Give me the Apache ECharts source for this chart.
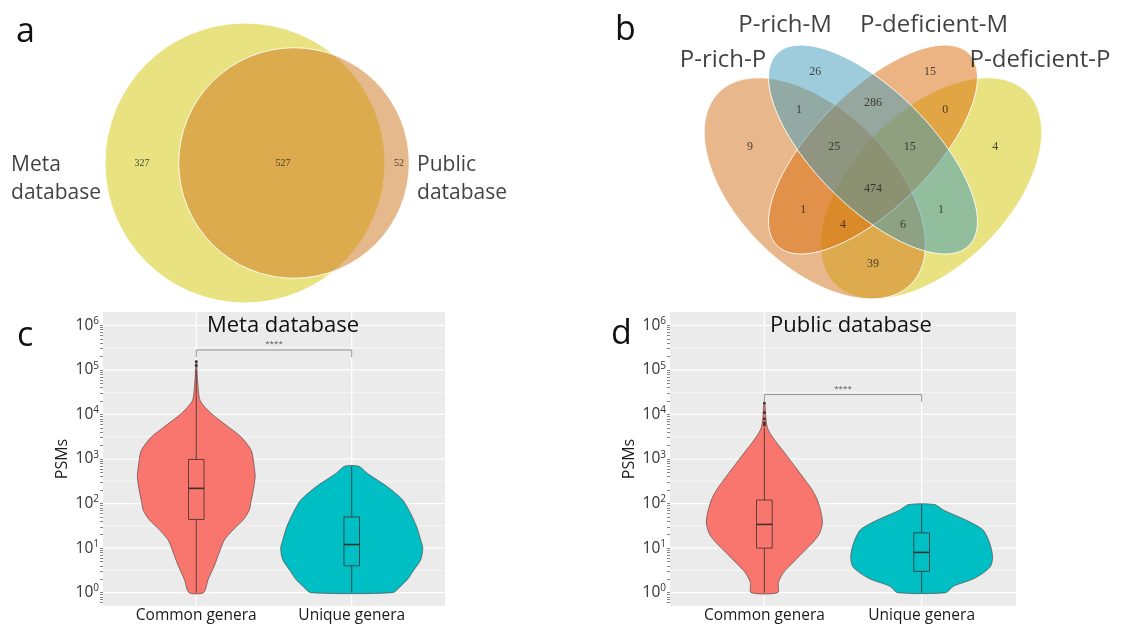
<!DOCTYPE html>
<html>
<head>
<meta charset="utf-8">
<script src="https://cdn.jsdelivr.net/npm/echarts@6/dist/echarts.min.js"></script>
<style>
  html, body { margin: 0; padding: 0; background: #ffffff; }
  #chart { width: 1134px; height: 626px; }
</style>
</head>
<body>
<div id="chart"></div>
<script>
// ---------------- data ----------------
// Panel a: two-set Venn (Meta only, shared, Public only)
const vennASets = ['Meta\ndatabase', 'Public\ndatabase'];
const vennACounts = [327, 527, 52];

// Panel b: four-set Venn
const vennBSets = ['P-rich-P', 'P-rich-M', 'P-deficient-M', 'P-deficient-P'];
// region counts, same order as vennBCountPos below
const vennBCounts = [9, 26, 15, 4, 1, 286, 0, 25, 15, 474, 1, 4, 6, 1, 39];

// Panels c and d: PSM distributions
const categories = ['Common genera', 'Unique genera'];
const yExponents = [0, 1, 2, 3, 4, 5, 6];

// violin outlines: [PSMs, half width in category units]
const metaCommonViolin = [[1, 0.047], [2, 0.077], [4, 0.116], [8, 0.148], [15, 0.18], [26, 0.238], [43, 0.302],
  [71, 0.341], [120, 0.354], [200, 0.367], [400, 0.379], [660, 0.373], [1550, 0.354], [3100, 0.289],
  [5100, 0.212], [10500, 0.096], [20000, 0.026], [37000, 0.013], [80000, 0.006], [158000, 0.003]];
const metaUniqueViolin = [[1, 0.264], [1.4, 0.315], [2, 0.36], [3.2, 0.399], [5.5, 0.444], [10, 0.457], [15, 0.444],
  [30, 0.418], [60, 0.379], [120, 0.328], [235, 0.232], [470, 0.103], [690, 0.045]];
const publicCommonViolin = [[1, 0.085], [1.7, 0.089], [2.8, 0.121], [4.6, 0.178], [7.8, 0.242], [13, 0.305], [21, 0.35],
  [36, 0.369], [60, 0.362], [120, 0.337], [200, 0.305], [330, 0.261], [660, 0.197], [1300, 0.134],
  [2200, 0.083], [3700, 0.038], [5100, 0.019], [8000, 0.01], [18000, 0.003]];
const publicUniqueViolin = [[1, 0.153], [1.4, 0.203], [2, 0.324], [2.8, 0.394], [3.9, 0.439], [5.9, 0.451], [9.1, 0.445],
  [15, 0.426], [26, 0.388], [43, 0.28], [71, 0.14], [95, 0.083]];

// box statistics: [lower whisker, Q1, median, Q3, upper whisker]
const metaBoxes = [[1, 44, 219, 977, 100000], [1, 4, 12, 50, 690]];
const publicBoxes = [[1, 10, 34, 120, 5000], [1, 3, 8, 22, 95]];
// outliers: [category position, PSMs]
const metaOutliers = [[1, 125000], [1, 155000]];
const publicOutliers = [[1, 5800], [1, 6500], [1, 8000], [1, 11000], [1, 18000]];
// significance brackets: [from, to, PSMs level, label]
const metaBracket = [1, 2, 280000, '****'];
const publicBracket = [1, 2, 28000, '****'];

// ---------------- layout ----------------
const SANS = '"Open Sans", "Noto Sans", "DejaVu Sans", sans-serif';
const SERIF = '"Liberation Serif", "DejaVu Serif", serif';
const L10 = Math.log10;

// Venn a: circle centres in units of the Meta circle radius; radii follow set sizes
const vennACenters = [[0, 0], [0.35, 0]];
const vennATotals = [vennACounts[0] + vennACounts[1], vennACounts[1] + vennACounts[2]];
const vennARadii = vennATotals.map(t => Math.sqrt(t / vennATotals[0]));
const vennAColors = ['rgba(209,197,1,0.5)', 'rgba(205,115,25,0.5)'];
const vennACountPos = [[-0.736, 0], [0.271, 0], [1.1, 0]];
const vennASetPos = [[-1.671, -0.114], [1.229, -0.114]];

// Venn b: ellipses in unit square [cx, cy, a, b, angle(deg)]
const vennBEllipses = [
  [0.35, 0.47, 0.35, 0.20, 135],
  [0.50, 0.57, 0.35, 0.15, 135],
  [0.50, 0.57, 0.35, 0.15, 45],
  [0.65, 0.47, 0.35, 0.20, 45]
];
const vennBColors = ['rgba(209,113,25,0.5)', 'rgba(61,153,185,0.5)', 'rgba(217,105,5,0.5)', 'rgba(209,197,1,0.5)'];
const vennBDrawOrder = [3, 0, 2, 1];
const vennBCountPos = [[0.183, 0.576], [0.351, 0.770], [0.647, 0.770], [0.815, 0.576], [0.309, 0.672],
  [0.5, 0.690], [0.686, 0.672], [0.400, 0.576], [0.595, 0.576], [0.5, 0.468], [0.320, 0.414],
  [0.423, 0.375], [0.577, 0.375], [0.675, 0.414], [0.5, 0.275]];
const vennBSetPos = [[0.1134, 0.8007], [0.2732, 0.8909], [0.6572, 0.8909], [0.9304, 0.8007]];

const violinColors = ['#F8766D', '#00BFC4'];

// log tick positions (1..9 per decade)
const logTicks = [];
for (let d = -1; d <= 6; d++) {
  for (let k = 1; k <= 9; k++) {
    const v = Math.log10(k) + d;
    if (v >= -0.3 && v <= 6.3) logTicks.push(v);
  }
}

// ---------------- helpers ----------------
function hiddenX(gridIndex, min, max) {
  return { type: 'value', gridIndex, min, max, show: false };
}
function hiddenY(gridIndex, min, max) {
  return { type: 'value', gridIndex, min, max, show: false };
}
function catAxis(gridIndex) {
  return {
    type: 'value', gridIndex, min: 0.4, max: 2.6,
    axisLine: { show: false }, axisTick: { show: false }, splitLine: { show: false },
    axisLabel: {
      customValues: [1, 2],
      formatter: v => categories[Math.round(v) - 1],
      fontSize: 15.5, color: '#1a1a1a', fontFamily: SANS, margin: 2
    }
  };
}
function logAxis(gridIndex) {
  return {
    type: 'value', gridIndex, min: -0.3, max: 6.3,
    axisLine: { show: false }, splitLine: { show: false },
    axisTick: { show: true, customValues: logTicks, length: 3, lineStyle: { color: '#666', width: 0.8 } },
    axisLabel: {
      customValues: yExponents,
      formatter: v => '{b|10}{s|' + v + '}',
      margin: 4,
      rich: {
        b: { fontSize: 15.5, color: '#333', fontFamily: SANS, lineHeight: 18 },
        s: { fontSize: 10, color: '#333', fontFamily: SANS, verticalAlign: 'top', lineHeight: 12 }
      }
    },
    name: 'PSMs', nameLocation: 'middle', nameGap: 33,
    nameTextStyle: { fontSize: 16, color: '#1a1a1a', fontFamily: SANS }
  };
}

function gridLineSeries(idx) {
  const items = [];
  yExponents.forEach(v => items.push([0, v]));
  yExponents.slice(0, -1).forEach(v => items.push([1, v + 0.5]));
  [1, 2].forEach(v => items.push([2, v]));
  return {
    type: 'custom', xAxisIndex: idx, yAxisIndex: idx, z: 1, silent: true, data: items,
    renderItem: (params, api) => {
      const kind = api.value(0), v = api.value(1);
      let p1, p2;
      if (kind === 2) { p1 = api.coord([v, -0.3]); p2 = api.coord([v, 6.3]); }
      else { p1 = api.coord([0.4, v]); p2 = api.coord([2.6, v]); }
      return {
        type: 'line',
        shape: { x1: p1[0], y1: p1[1], x2: p2[0], y2: p2[1] },
        style: { stroke: '#ffffff', lineWidth: kind === 1 ? 0.6 : 1.2 }
      };
    }
  };
}

function violinSeries(idx, profiles) {
  return {
    type: 'custom', xAxisIndex: idx, yAxisIndex: idx, z: 3, silent: true,
    data: profiles.map((p, i) => [i + 1, i]),
    renderItem: (params, api) => {
      const x = api.value(0), i = api.value(1);
      const prof = profiles[i];
      const right = prof.map(([v, w]) => api.coord([x + w, L10(v)]));
      const left = prof.slice().reverse().map(([v, w]) => api.coord([x - w, L10(v)]));
      return {
        type: 'polygon',
        shape: { points: right.concat(left), smooth: 0.25 },
        style: { fill: violinColors[i], stroke: '#5a4a4a', lineWidth: 0.7 }
      };
    }
  };
}

function boxSeries(idx, boxes) {
  return {
    type: 'custom', xAxisIndex: idx, yAxisIndex: idx, z: 4, silent: true,
    data: boxes.map((b, i) => [i + 1, i]),
    renderItem: (params, api) => {
      const x = api.value(0);
      const s = boxes[api.value(1)].map(L10);
      const hw = 0.05;
      const tl = api.coord([x - hw, s[3]]), br = api.coord([x + hw, s[1]]);
      const m1 = api.coord([x - hw, s[2]]), m2 = api.coord([x + hw, s[2]]);
      const t1 = api.coord([x, s[3]]), t2 = api.coord([x, s[4]]);
      const b1 = api.coord([x, s[1]]), b2 = api.coord([x, s[0]]);
      const ln = (p, q, w) => ({ type: 'line', shape: { x1: p[0], y1: p[1], x2: q[0], y2: q[1] }, style: { stroke: '#3a3030', lineWidth: w } });
      return {
        type: 'group',
        children: [
          ln(t1, t2, 0.8), ln(b1, b2, 0.8),
          { type: 'rect', shape: { x: tl[0], y: tl[1], width: br[0] - tl[0], height: br[1] - tl[1] },
            style: { fill: 'none', stroke: '#3a3030', lineWidth: 0.8 } },
          ln(m1, m2, 1.6)
        ]
      };
    }
  };
}

function outlierSeries(idx, pts) {
  return {
    type: 'scatter', xAxisIndex: idx, yAxisIndex: idx, z: 5, silent: true,
    symbolSize: 3, itemStyle: { color: '#2a2222' },
    data: pts.map(([c, v]) => [c, L10(v)])
  };
}

function bracketSeries(idx, br) {
  return {
    type: 'custom', xAxisIndex: idx, yAxisIndex: idx, z: 4, silent: true,
    data: [[br[0], L10(br[2]), br[1]]],
    renderItem: (params, api) => {
      const x1 = api.value(0), y = api.value(1), x2 = api.value(2);
      const drop = 0.16;
      const pts = [api.coord([x1, y - drop]), api.coord([x1, y]), api.coord([x2, y]), api.coord([x2, y - drop])];
      const mid = api.coord([(x1 + x2) / 2, y + 0.14]);
      return {
        type: 'group',
        children: [
          { type: 'polyline', shape: { points: pts }, style: { stroke: '#888', lineWidth: 0.9, fill: 'none' } },
          { type: 'text', x: mid[0], y: mid[1],
            style: { text: br[3], fontSize: 8, fontFamily: SANS, fill: '#555', align: 'center', verticalAlign: 'middle',
              textAlign: 'center', textVerticalAlign: 'middle' } }
        ]
      };
    }
  };
}

function labelSeries(xi, positions, texts, labelOpt) {
  return {
    type: 'scatter', xAxisIndex: xi, yAxisIndex: xi, z: 6, silent: true, clip: false,
    symbol: 'circle', symbolSize: 1, itemStyle: { color: 'transparent' },
    data: positions.map((p, i) => ({ value: [p[0], p[1]], label: { formatter: String(texts[i]) } })),
    label: Object.assign({ show: true, position: 'inside' }, labelOpt)
  };
}

// ---------------- option ----------------
const option = {
  animation: false,
  backgroundColor: '#ffffff',
  grid: [
    { left: 105, top: 23, width: 308, height: 280 },
    { left: 679, top: 21.5, width: 388, height: 310.4 },
    { left: 103, top: 312, width: 342, height: 294, show: true, backgroundColor: '#EBEBEB', borderWidth: 0 },
    { left: 670, top: 312, width: 346, height: 294, show: true, backgroundColor: '#EBEBEB', borderWidth: 0 }
  ],
  xAxis: [hiddenX(0, -1, 1.2), hiddenX(1, 0, 1), catAxis(2), catAxis(3)],
  yAxis: [hiddenY(0, -1, 1), hiddenY(1, 0.1, 0.9), logAxis(2), logAxis(3)],
  graphic: [
    { type: 'text', x: 16, y: 32, z: 100, style: { text: 'a', fontSize: 34, fontFamily: SANS, fill: '#111', verticalAlign: 'middle', textVerticalAlign: 'middle' } },
    { type: 'text', x: 615, y: 30, z: 100, style: { text: 'b', fontSize: 34, fontFamily: SANS, fill: '#111', verticalAlign: 'middle', textVerticalAlign: 'middle' } },
    { type: 'text', x: 17, y: 336, z: 100, style: { text: 'c', fontSize: 34, fontFamily: SANS, fill: '#111', verticalAlign: 'middle', textVerticalAlign: 'middle' } },
    { type: 'text', x: 611, y: 334, z: 100, style: { text: 'd', fontSize: 34, fontFamily: SANS, fill: '#111', verticalAlign: 'middle', textVerticalAlign: 'middle' } },
    { type: 'text', x: 283, y: 326, z: 100, style: { text: 'Meta database', fontSize: 22, fontFamily: SANS, fill: '#111', align: 'center', verticalAlign: 'middle', textAlign: 'center', textVerticalAlign: 'middle' } },
    { type: 'text', x: 851, y: 326, z: 100, style: { text: 'Public database', fontSize: 22, fontFamily: SANS, fill: '#111', align: 'center', verticalAlign: 'middle', textAlign: 'center', textVerticalAlign: 'middle' } }
  ],
  series: [
    // panel a circles
    {
      type: 'custom', xAxisIndex: 0, yAxisIndex: 0, z: 2, silent: true, clip: false,
      data: vennACenters.map((c, i) => [c[0], c[1], i]),
      renderItem: (params, api) => {
        const i = api.value(2);
        const c = api.coord([api.value(0), api.value(1)]);
        const r = api.size([vennARadii[i], 0])[0];
        return { type: 'circle', shape: { cx: c[0], cy: c[1], r },
          style: { fill: vennAColors[i], stroke: 'rgba(255,255,255,0.9)', lineWidth: 1 } };
      }
    },
    labelSeries(0, vennACountPos, vennACounts, { fontSize: 10, fontFamily: SERIF, color: '#222' }),
    labelSeries(0, vennASetPos, vennASets, { fontSize: 21, fontFamily: SANS, color: '#111', align: 'left', lineHeight: 28 }),
    // panel b ellipses
    {
      type: 'custom', xAxisIndex: 1, yAxisIndex: 1, z: 2, silent: true, clip: false,
      data: vennBDrawOrder.map(i => [vennBEllipses[i][0], vennBEllipses[i][1], i]),
      renderItem: (params, api) => {
        const i = api.value(2);
        const [cx, cy, a, b, ang] = vennBEllipses[i];
        const th = ang * Math.PI / 180;
        const pts = [];
        for (let k = 0; k < 120; k++) {
          const t = k / 120 * Math.PI * 2;
          const x = cx + a * Math.cos(t) * Math.cos(th) - b * Math.sin(t) * Math.sin(th);
          const y = cy + a * Math.cos(t) * Math.sin(th) + b * Math.sin(t) * Math.cos(th);
          pts.push(api.coord([x, y]));
        }
        return { type: 'polygon', shape: { points: pts },
          style: { fill: vennBColors[i], stroke: 'rgba(255,255,255,0.9)', lineWidth: 1 } };
      }
    },
    labelSeries(1, vennBCountPos, vennBCounts, { fontSize: 12, fontFamily: SERIF, color: '#222' }),
    labelSeries(1, vennBSetPos, vennBSets, { fontSize: 24, fontFamily: SANS, color: '#111' }),
    // panel c
    gridLineSeries(2),
    violinSeries(2, [metaCommonViolin, metaUniqueViolin]),
    boxSeries(2, metaBoxes),
    outlierSeries(2, metaOutliers),
    bracketSeries(2, metaBracket),
    // panel d
    gridLineSeries(3),
    violinSeries(3, [publicCommonViolin, publicUniqueViolin]),
    boxSeries(3, publicBoxes),
    outlierSeries(3, publicOutliers),
    bracketSeries(3, publicBracket)
  ]
};

const chart = echarts.init(document.getElementById('chart'));
chart.setOption(option);
</script>
</body>
</html>
